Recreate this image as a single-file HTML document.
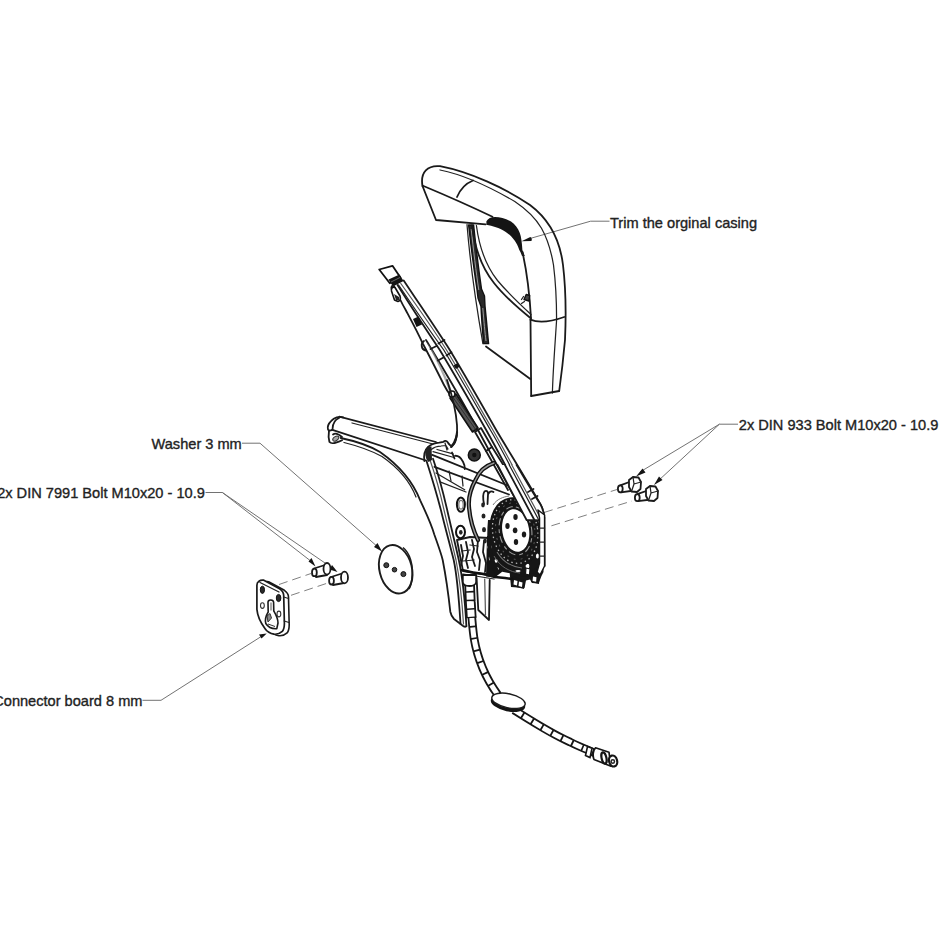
<!DOCTYPE html>
<html><head><meta charset="utf-8"><title>Exploded view</title>
<style>
html,body{margin:0;padding:0;background:#fff;width:944px;height:944px;overflow:hidden}
svg{position:absolute;left:0;top:0;display:block}
text{font-family:"Liberation Sans",sans-serif;font-size:14.6px;fill:#222;stroke:#222;stroke-width:0.35}
.l{fill:none;stroke:#1a1a1a;stroke-width:1.8;stroke-linecap:round;stroke-linejoin:round}
.t{fill:none;stroke:#222;stroke-width:1.25;stroke-linecap:round;stroke-linejoin:round}
.g{fill:none;stroke:#555;stroke-width:1.2;stroke-linecap:round;stroke-linejoin:round}
.k{fill:none;stroke:#111;stroke-width:2.6;stroke-linecap:round;stroke-linejoin:round}
.ld{fill:none;stroke:#6a6a6a;stroke-width:0.95}
.ds{fill:none;stroke:#808080;stroke-width:1;stroke-dasharray:9 5}
.w{fill:#fff}
.b{fill:#141414}
</style></head>
<body>
<svg width="944" height="944" viewBox="0 0 944 944">
<!-- LABELS -->
<text x="610" y="227.5">Trim the orginal casing</text>
<text x="738.8" y="429.6">2x DIN 933 Bolt M10x20 - 10.9</text>
<text x="151.5" y="448.6">Washer 3 mm</text>
<text x="204.8" y="497.8" text-anchor="end">2x DIN 7991 Bolt M10x20 - 10.9</text>
<text x="142.5" y="706.2" text-anchor="end">Connector board 8 mm</text>

<!-- LEADERS -->
<g id="leaders">
<path class="ld" d="M609.5 221.2 H590.6 L530 238.5"/>
<path class="b" d="M521.5 241.3 L530.3 236.9 C531.8 237.5 532.2 239.6 531.4 241 Z"/>
<path class="ld" d="M738 424.2 H719.4 L640 472 M719.4 424.2 L658 481"/>
<path class="b" d="M636 476.5 L642.5 468.5 L645.5 472.5 Z"/>
<path class="b" d="M654 485 L659 476.5 L662.5 480 Z"/>
<path class="ld" d="M242 443.2 H260 L379 548"/>
<path class="b" d="M382 551.5 L374 547 L377.5 543 Z"/>
<path class="ld" d="M205.5 492.5 H222.4 L312 562 M222.4 492.5 L333 568.5"/>
<path class="b" d="M315.5 566.5 L308.5 561.5 L311.5 558 Z"/>
<path class="b" d="M337.5 572 L329.5 569.5 L332 565 Z"/>
<path class="ld" d="M142.5 700.3 H161 L262 636"/>
<path class="b" d="M266.7 633.4 L259 634.5 L261.5 638.5 Z"/>
</g>

<!-- DASHED -->
<path class="ds" d="M279 584.5 L311 573.5 M291 595.3 L329 582.6"/>
<path class="ds" d="M544 512.5 L617 489.5 M551.4 525.8 L632 501"/>

<!-- CASING -->
<g id="casing">
<path class="l" d="M422.5 186 C420 172 428 165 440 166.2 C470 172 505 188 530 205 C550 220 560 240 563 265 C566 290 566 318 565 340 C563 362 561 378 559.2 391"/>
<path class="t" d="M440 170 C465 175 490 187 514.8 201.5 C526 209 536 219 541.5 228.2 C547 238 551 250 553.5 265 C556 285 556.6 305 556.6 320 C555 345 553 370 552.4 393"/>
<path class="l" d="M531.2 396 L559.2 391"/>
<path class="l" d="M530.5 320 L531.2 396"/>
<path class="l" d="M530.3 319.7 C536 322 546 323.5 564.2 317"/>
<path class="l" d="M423.5 186 C445 195 470 206 492.5 216.8"/>
<path class="l" d="M422.5 186 L436 220 L485.6 224.3"/>
<path class="l" d="M457 197 Q462 185 473 180.5"/>
<path class="b" d="M486.4 221.3 C488 218.5 491 217 495 217 C500 217 506 218.5 511 221.5 C515 224.5 518 228 519.8 233 C521.3 237 522 243 522.4 250 L524.8 256 L522 256 C521 253 520 251 519.3 250 C518 246.5 516.5 243 514.8 240.8 C512 237 509 234 505.4 231.7 C502 229.5 499 228.3 495.9 227.2 C492.5 226 489.5 225.2 486.4 224.7 Z"/>
<path class="l" d="M522.5 252 C526 268 529.5 292 531 318"/>
<!-- left side panel -->
<path d="M468.6 225 L473.6 225 C476 248 479 272 481.5 289 L484.5 296 L485 306 C486.5 320 487.5 333 488.6 343.6 L483.6 343.6 C482.5 330 481.5 318 481 306.4 L478 298 L477 289.3 C474 270 471 246 468.6 225 Z" fill="#2a2a2a" stroke="#111" stroke-width="1.4" stroke-linejoin="round"/>
<path d="M471.2 229 C473.5 250 476 272 478.8 290 M482.8 308 C484 322 485 333 486 341" stroke="#9a9a9a" stroke-width="1" fill="none"/>
<path class="t" d="M467 224.5 C470 262 477 310 482.9 343.6"/>
<path class="l" d="M486 346.5 L530.3 379"/>
<path class="l" d="M472 225.5 C475 250 482 268 494 283 C505 297 518 308 531 318.5"/>
<path class="t" d="M476.4 225.5 C479.5 249 486 266 497.5 280.5 C508 293 519 303.5 531 314.5"/>
<path d="M524 299.5 l2.2 -5 l3.5 1 l-0.8 5.5 z" fill="#444" stroke="#111" stroke-width="1.4" stroke-linejoin="round"/>
<path class="t" d="M521.5 303.5 l3 -2 M523.5 296.5 l-2 3"/>
</g>

<!-- LONG ARM -->
<g id="arm">
<path d="M379.2 269.5 L392.5 265.8 L400.4 277.5 L389.8 283.3 Z" fill="#fff" stroke="#111" stroke-width="1.8" stroke-linejoin="round"/>
<path class="b" d="M388.5 279.5 L399.5 274.5 L403.6 281 L393 286.5 Z"/>
<path d="M391 282 L400 277.5" stroke="#666" stroke-width="1" fill="none"/>
<!-- right outer -->
<path class="l" d="M403.7 280.4 C420 305 437 330 449.8 350 C466 377 482 405 496.2 430 C508 450 525 477 540.4 504.2 C543 509 544 512 544.3 518 L544.6 566"/>
<path class="g" d="M400.8 283.5 C417 306 434 330 446.5 350 C463 377 478 405 492.9 430 C505 451 518 476 530.7 500"/>
<path class="t" d="M398.6 285 C414 308 430 331 443.8 350 C460 377 476 405 490.4 430 C503 451 515 476 528.1 500"/>
<path class="l" d="M397.5 285 C412 308 427 331 439.8 350 C456 377 472 405 486.2 430 C498 451 511 476 523.7 500 L526 504"/>
<!-- left outer -->
<path class="l" d="M391.5 289 C391 287 392 285 394 286 C397 293 401 302 405.7 310 C411 320 417 331 423 344 C430 357 437 371 444 385 C446 389 448 392 451 396"/>
<path class="l" d="M426 340 C428 343 430 347 432 350 C447 375 463 402 478 430 C490 452 503 476 516 500"/>
<path d="M426 341 C432 352 438 364 444 378 L449 391 L452 391 C448 380 441 366 433.5 352 Z" fill="#888" opacity="0.7"/>
<path d="M391.5 291 C391 288 393 286.5 395 287.5 L400 296 C401 299 400 301 398 301.5 L394.5 300 Z" fill="#fff" stroke="#111" stroke-width="1.6" stroke-linejoin="round"/>
<path d="M394 294 L399 297 L399.5 300.5 L396 300 Z" fill="#222"/>
<path class="b" d="M413 319 L418.5 316.5 L422 324.5 L416.5 327 Z"/>
<path class="l" d="M424 341 C420.5 343 421 349.5 425.5 350.5"/>
<path class="l" d="M438.5 343.5 L444.5 340 M446.5 355.5 L451.5 352.3 M430.5 349 L436.5 346 M438 360.5 L443.5 357.5"/>
<path class="b" d="M453.5 365.5 l4 -2.5 l2.5 3.5 l-4 2.5 z"/>
<!-- spring -->
<path d="M450 398 L456 394 L478 428 L472.5 432 Z" fill="#555" stroke="#111" stroke-width="1.6" stroke-linejoin="round"/>
<path d="M452 396 L476 430 M454 394.5 L477.5 428.5" stroke="#222" stroke-width="0.8" fill="none"/>
<circle cx="452" cy="394" r="3" fill="#fff" stroke="#111" stroke-width="1.6"/>
<!-- slot below spring -->
<path class="l" d="M475 432 L481 428 L492 447 L486 451 Z"/>
<!-- wire -->
<path class="l" d="M447 380 C452 395 456 410 457 425 C458 435 455 442 451 447"/>
<path class="l" d="M456.8 435 C456 441 454 445 451.5 447"/>
<!-- lower arm part near gear -->
<path class="l" d="M486 451 L508 490 M492 447 L516 485"/>
</g>

<!-- BRACKET -->
<g id="bracket">
<path class="l" d="M339.3 416.7 L436 442"/>
<path class="t" d="M352 423 L433 444"/>
<path class="l" d="M343.2 417.4 C339 416 334 417.5 331.5 420.6 C328.5 423.5 327.2 427 328 429.5 C328.5 431 330 431 332.6 429.6"/>
<path class="l" d="M339 418 C335.5 419.5 332.8 423.5 332.6 428.5"/>
<path class="l" d="M329 430.5 C328.5 434 328.6 439 329.4 441.8 C331 443.5 334 443.3 335.2 442.8 C338 442 340.5 441 342.1 440.2"/>
<ellipse cx="335.8" cy="438.6" rx="3.4" ry="2" transform="rotate(-35 335.8 438.6)" fill="#aaa" stroke="#333" stroke-width="1"/>
<path class="l" d="M333 434.5 C335 433 338 433.5 342 437"/>
<path class="l" d="M332.4 429.8 L426 460.5"/>
<path class="l" d="M340.7 438 C355 441 370 446 380 452 C400 466 413 482 420.2 500.3 C426 513 431 523 434.3 534.5 C438 545 441 553 442.7 560 C446 577 448.5 595 450.3 611.7 C451 615 452 617 454 619 L462.2 625.3 C463.5 626.5 465 627.2 466.4 626.3"/>
<path class="t" d="M344 442.5 C358 446 372 451 382 456.5 C400 469 411 484 416 497"/>
<path class="l" d="M426.6 461.2 C432 478 437 495 440.9 510 C445 527 450 545 453.7 560 C457 575 459 600 460.5 623.6"/>
<path class="l" d="M433 458.8 C439 476 443.5 494 447.2 510 C451 527 455.5 545 458.8 560 C462 575 465 600 466.4 626"/>
<path class="g" d="M430 460 C436 477 440.5 494 444 510 C448 527 452.5 545 456 560 C459 575 462 600 463.5 624"/>
<!-- top rounded cap -->
<path class="l" d="M424.4 461 C423.5 455 425 450 428 447 C431 444.5 435 443 439.2 442.6 L443.5 441.8 C444.5 440.5 446.5 440.5 447.5 442 L448.5 443.5 L450.8 445.8 C452.5 445.5 454.5 444 455.5 441 C456.5 438 457 435 457.2 432"/>
<path class="t" d="M431.2 449.5 C434 447 437 446 441 446 L446 445.5 L448 449 M445 443 L447 450"/>
<path d="M425.3 450 C426.3 447.5 429 446 431.5 446.5 L432 460 L428.5 462 C426 460 425 455 425.3 450 Z" fill="#222"/>
<!-- cross bar -->
<path class="l" d="M432.2 454.9 L509 486"/>
<path class="l" d="M434.5 466.8 L509 494.5"/>
<path class="t" d="M436 473 L464.7 489.8 M440 481.9 L466 492"/>
<path class="t" d="M433 451.6 L454 457.5 M437 449.5 L453 453.8"/>
<path class="l" d="M452 452.5 L454.5 458.5"/>
<path class="l" d="M455 455.8 C458 455.5 461 458 463 461.7 C464.5 464.5 465 467 464.8 469"/>
<path class="t" d="M449 471 L451 481 M462 476 L463 486"/>
<circle cx="474.3" cy="455" r="6" fill="#333" stroke="#111" stroke-width="1.5"/>
<circle cx="474.3" cy="455" r="2.2" fill="#111"/>
<!-- Y piece -->
<path class="l" d="M484 504 C483 499 482.5 494 484.5 491.5 C486.5 490 488.5 491.5 488 494.5 L487.5 504 M488 494.5 C489 491.5 491.5 490.5 493.5 492"/>
</g>

<!-- MECHANISM -->
<g id="mech">
<!-- left clutter box -->
<path class="l" d="M457 540 L470 537 L489 538 L494 560 L494.5 576 L463 571 Z" fill="#fff"/>
<path class="l" d="M461 545 L463 556 L461 565 M466 542 L468 552 L466 560 L468 568 M472 540 L474 549 L472 557 L475 566 M478 540 L477 552 L480 560 L479 570 M484 541 L483 552 L486 563 L485 572 M489 540 L490 556 L489 572"/>
<path class="t" d="M462 551 L470 550 M463 561 L474 560 M470 545 L478 546"/>
<path class="k" d="M462 570 L473 572.5 L484 574 L495 577"/>
<path class="t" d="M463 574 L494 579"/>
<!-- holes left -->
<ellipse cx="460.9" cy="504.6" rx="4" ry="7.2" fill="#fff" stroke="#111" stroke-width="2"/>
<ellipse cx="461" cy="504.8" rx="2.2" ry="4.4" fill="#fff" stroke="#777" stroke-width="1.2"/>
<ellipse cx="460.5" cy="532" rx="4.5" ry="6.2" fill="#fff" stroke="#111" stroke-width="2"/>
<ellipse cx="460.8" cy="532.3" rx="1.8" ry="2.4" fill="#222"/>
<!-- curved rod -->
<path d="M494 463 C485 466 479 472 476 479 C471 488 468 497 469 507 C470 520 474 532 478 540" fill="none" stroke="#111" stroke-width="4.2" stroke-linecap="round"/>
<path d="M494 463 C485 466 479 472 476 479 C471 488 468 497 469 507 C470 520 474 532 478 540" fill="none" stroke="#999" stroke-width="1.4" stroke-linecap="round"/>
<ellipse cx="483" cy="505" rx="1.8" ry="2.4" fill="#222"/>
<ellipse cx="483.5" cy="516" rx="2" ry="2.6" fill="#222"/>
<ellipse cx="484" cy="529.7" rx="2" ry="2.6" fill="#222"/>
<ellipse cx="485" cy="541" rx="1.8" ry="2.4" fill="#222"/>
<!-- dark mass under gear -->
<path d="M487 536 L543 536 L543.5 572 L541.5 576 L538.6 583.6 L532 583 L530 579.5 L526 580.6 L524.5 588 L511 587 L509.7 573.2 L502.2 571.7 L494.8 577.6 L486 576.5 Z" fill="#161616"/>
<g fill="#fff">
<ellipse cx="489.5" cy="547" rx="2" ry="2.6"/>
<ellipse cx="490.5" cy="558" rx="1.7" ry="2.8"/>
<ellipse cx="496" cy="561" rx="1.8" ry="1.8"/>
<ellipse cx="497" cy="569" rx="1.9" ry="1.4"/>
<ellipse cx="523.5" cy="553" rx="2.3" ry="1.3"/>
<ellipse cx="520" cy="561" rx="1.8" ry="1.1"/>
<ellipse cx="527.5" cy="566" rx="1.9" ry="2.6"/>
<ellipse cx="518" cy="571" rx="2.6" ry="1"/>
<ellipse cx="537.5" cy="556" rx="1.6" ry="2.6"/>
<ellipse cx="535.5" cy="580" rx="1.5" ry="2"/>
<ellipse cx="514" cy="581" rx="1.4" ry="2"/>
<ellipse cx="520.5" cy="583.5" rx="1.4" ry="2"/>
</g>
<path d="M502 553 C507 558 512 562 517 564 M505 550 C510 555 514 558 519 560" stroke="#888" stroke-width="1" fill="none"/>
<path d="M541 548 L541 572" stroke="#aaa" stroke-width="1.4" fill="none"/>
<!-- gear dark ring -->
<ellipse cx="515" cy="532" rx="25.5" ry="35" transform="rotate(-9 515 532)" fill="#151515"/>
<path d="M491 520 C489 540 492 560 500 572 L495 575 C488 562 486 540 488 520 Z" fill="#151515"/>
<path d="M498 560 C505 572 520 580 534 576 L538 566 L530 572 C518 575 506 570 498 560 Z" fill="#151515"/>
<ellipse cx="515.5" cy="530.8" rx="16.2" ry="24.3" transform="rotate(-9 515.5 530.8)" fill="none" stroke="#9a9a9a" stroke-width="1.1" stroke-dasharray="7 3 4 4"/>
<ellipse cx="515.2" cy="531.5" rx="22.5" ry="32" transform="rotate(-9 515.2 531.5)" fill="none" stroke="#bbb" stroke-width="1.3" stroke-dasharray="1.4 3.2"/>
<ellipse cx="515.3" cy="531.2" rx="19.5" ry="28.5" transform="rotate(-9 515.3 531.2)" fill="none" stroke="#555" stroke-width="1" stroke-dasharray="2 5"/>
<path d="M497 552 C503 562 512 567 522 568" fill="none" stroke="#777" stroke-width="1.1"/>
<path d="M494 556 C500 567 510 572 520 573" fill="none" stroke="#666" stroke-width="1"/>
<path d="M493 505 C497 499 503 497 509 496" fill="none" stroke="#777" stroke-width="1"/>
<ellipse cx="515.7" cy="530.5" rx="13.4" ry="21.4" transform="rotate(-9 515.7 530.5)" fill="#fff"/>
<ellipse cx="515.5" cy="517.1" rx="2.2" ry="3" fill="#1a1a1a"/>
<ellipse cx="507.5" cy="526" rx="2.2" ry="3" fill="#1a1a1a"/>
<ellipse cx="515.1" cy="530.3" rx="2.3" ry="2.9" fill="#1a1a1a"/>
<ellipse cx="524" cy="534.5" rx="2.2" ry="3" fill="#1a1a1a"/>
<ellipse cx="516" cy="542.1" rx="2.2" ry="3" fill="#1a1a1a"/>
<!-- arm end over gear -->
<path d="M497.5 465 L516.6 465 L537 500 L541.5 506.5 L544 512 L543 520 L526.6 520 Z" fill="#fff"/>
<path class="l" d="M516.6 465 C525 479 533 493 540.4 504.2 C543 509 544 512 544.3 518"/>
<path class="g" d="M511.8 465 L541 519"/>
<path class="t" d="M509.3 465 L538.5 519.5"/>
<path class="l" d="M505 465 L534.4 520"/>
<path class="l" d="M497.5 465 L526.6 520 L543 520.5"/>
<path class="l" d="M528 492 L533.5 489 M532 499 L537.5 496"/>
<!-- housing right edge -->
<path d="M538 510 L544.6 515 L544.6 566 L540 575 L537 572 L539.5 563 L539.5 518 Z" fill="#fff" stroke="#151515" stroke-width="1.5" stroke-linejoin="round"/>
<path class="t" d="M539.5 528 L544.6 528 M539.5 542 L544.6 542 M539.5 556 L544.6 556"/>
<!-- lower knobs -->
<path d="M512 576 L525 580 L524 589 L512 586 Z" fill="#151515"/>
<path d="M514 580 l3.5 1 l-0.5 4.5 l-3.5 -1 z M519 581.5 l3.5 1 l-0.5 4.5 l-3.5 -1 z" fill="#fff"/>
<path d="M531 573 L539.5 575 L539 584 L531 582 Z" fill="#151515"/>
<path d="M533 576.5 l3.5 0.8 l-0.4 4.5 l-3.5 -0.8 z" fill="#fff"/>
<path d="M526 568 l4 1 l-0.5 6 l-4 -1 z" fill="#fff" stroke="#151515" stroke-width="1.2"/>
<path class="k" d="M495 577 L505 578 L512 579"/>
</g>

<!-- CABLE -->
<g id="cable">
<path d="M469.8 578 C470.5 600 471.5 620 474 638 C477 656 484 676 498 695" fill="none" stroke="#161616" stroke-width="8.6"/>
<path d="M469.8 578 C470.5 600 471.5 620 474 638 C477 656 484 676 498 695" fill="none" stroke="#fff" stroke-width="5" stroke-dasharray="10.5 1.8"/>
<path d="M469.6 584 L470.3 602 L471.3 618" fill="none" stroke="#161616" stroke-width="10.6"/>
<path d="M469.6 584 L470.3 602 L471.3 618" fill="none" stroke="#fff" stroke-width="7" stroke-dasharray="7 1.6"/>
<path d="M462.8 575 L476.2 575 L476.2 582 C476.2 585 472 586 469.4 586 C466 586 462.8 585 462.8 582 Z" fill="#fff" stroke="#161616" stroke-width="1.8" stroke-linejoin="round"/>
<!-- lower plates -->
<path class="l w" d="M476.6 578 L478.3 610 L489 620 L489.7 580"/>
<path class="g" d="M484.7 579 L485.5 615"/>
<path d="M514 710 C530 720 550 733 570 742 C580 747 588 750 595 753" fill="none" stroke="#161616" stroke-width="8.6"/>
<path d="M514 710 C530 720 550 733 570 742 C580 747 588 750 595 753" fill="none" stroke="#fff" stroke-width="5" stroke-dasharray="9.5 1.8"/>
<path d="M587.5 746.5 L592 748.3 L590 757.5 L585.5 755.5 Z" fill="#fff" stroke="#151515" stroke-width="1.6"/>
<ellipse cx="508" cy="703.5" rx="17.5" ry="7.8" transform="rotate(12 508 703.5)" class="b"/>
<ellipse cx="508.5" cy="700.8" rx="17" ry="7" transform="rotate(12 508.5 700.8)" fill="#fff" stroke="#1c1c1c" stroke-width="1.4"/>
<path d="M595.5 747.8 L609 752.3 L611 766.2 L594 759.5 C592.5 756 593 750 595.5 747.8 Z" fill="#fff" stroke="#151515" stroke-width="1.7" stroke-linejoin="round"/>
<ellipse cx="604" cy="758" rx="2.4" ry="5.8" transform="rotate(-12 604 758)" fill="none" stroke="#151515" stroke-width="2.2"/>
<ellipse cx="613.1" cy="761" rx="4" ry="5.6" transform="rotate(-15 613.1 761)" fill="#fff" stroke="#151515" stroke-width="2.2"/>
<circle cx="612.8" cy="761.5" r="1.7" fill="#fff" stroke="#222" stroke-width="1.5"/>
</g>

<!-- RIGHT BOLTS -->
<g id="rbolts">
<path class="l w" d="M620.3 485.3 L632 481 L634 490.5 L621 492.3 Z"/>
<path class="l w" d="M629 480 L633 477 L638.5 477.5 L641 482 L640.5 489 L637 492 L631.5 491.5 L629 487 Z"/>
<path class="t" d="M633 477 L634 484 L631.5 491.5 M634 484 L641 482"/>
<ellipse class="l w" cx="620.3" cy="488.8" rx="2.4" ry="3.5"/>
<path class="l w" d="M637.3 494.2 L649 490 L651 499.5 L638 501.2 Z"/>
<path class="l w" d="M646 489 L650 486 L655.5 486.5 L658 491 L657.5 498 L654 501 L648.5 500.5 L646 496 Z"/>
<path class="t" d="M650 486 L651 493 L648.5 500.5 M651 493 L658 491"/>
<ellipse class="l w" cx="637.3" cy="497.7" rx="2.4" ry="3.5"/>
</g>

<!-- WASHER -->
<g id="washer">
<ellipse cx="395.7" cy="569.3" rx="16.2" ry="24.6" transform="rotate(-14 395.7 569.3)" fill="#fff" stroke="#1c1c1c" stroke-width="1.9"/>
<path d="M403 547.5 C410 553 413.5 565 412 578 C411.5 583 410.5 587 409 589" stroke="#1c1c1c" stroke-width="1.5" fill="none"/>
<circle cx="386.3" cy="565.2" r="2.5" fill="#444" stroke="#111" stroke-width="1"/>
<circle cx="394.5" cy="569.7" r="2.3" fill="#444" stroke="#111" stroke-width="1"/>
<circle cx="403.4" cy="574.1" r="2.5" fill="#444" stroke="#111" stroke-width="1"/>
</g>

<!-- LEFT BOLTS -->
<g id="lbolts">
<path class="l w" d="M314 568.5 L325 565 L327 575 L316 577 Z"/>
<ellipse class="l w" cx="327" cy="568.8" rx="3.5" ry="5.8"/>
<ellipse class="l w" cx="314.4" cy="572.4" rx="2.4" ry="3.8"/>
<path class="l w" d="M331 577 L342 573.5 L344 583 L333 585 Z"/>
<ellipse class="l w" cx="344.5" cy="577.5" rx="3.5" ry="5.8"/>
<ellipse class="l w" cx="331.5" cy="580.7" rx="2.4" ry="3.8"/>
</g>

<!-- CONNECTOR BOARD -->
<g id="board">
<path d="M263.7 582.7 C265.3 581.5 266.8 581.3 268.6 581.7 L284.4 590.3 C286.8 592 288.5 594.5 288.5 597.1 L289.2 624.7 C289.2 628.5 288.3 631.5 287.1 632.9 C284.8 635 281.8 636 278.9 635.7 C274.8 635 271.8 633 269.9 630.2 Z" fill="#fff" stroke="#1a1a1a" stroke-width="1.6" stroke-linejoin="round"/>
<path d="M258.9 581.2 C260.5 580 262 579.8 263.8 580.2 L279.6 588.8 C282 590.5 283.7 593 283.7 595.6 L284.4 623.2 C284.4 627 283.5 630 282.3 631.4 C280 633.5 277 634.5 274.1 634.2 C270 633.5 267 631.5 265.1 628.7 C260 622 257.5 616 256.9 609.4 L256.9 585.3 C256.9 583.5 257.5 582 258.9 581.2 Z" fill="#fff" stroke="#1a1a1a" stroke-width="1.7" stroke-linejoin="round"/>
<path class="t" d="M260 582.5 L279 592 M283.7 597 L288.5 598.5 M284.2 621 L289 622.5"/>
<ellipse cx="262.4" cy="589.8" rx="2.1" ry="3.6" fill="#2a2a2a" stroke="#111" stroke-width="1"/>
<ellipse cx="278.6" cy="598" rx="2.3" ry="3.6" fill="#2a2a2a" stroke="#111" stroke-width="1"/>
<ellipse cx="262.4" cy="605.6" rx="1.9" ry="2.8" fill="#fff" stroke="#333" stroke-width="1.1"/>
<ellipse cx="278.9" cy="614" rx="1.9" ry="2.9" fill="#fff" stroke="#333" stroke-width="1.1"/>
<path d="M268 602.3 C268 599.3 273.3 599 273.6 602.3 L273.8 611 C275.5 614 278 618 278 623 L276.8 628.7 C272.5 629 268 627 265.8 623.5 C264.8 620 265.8 616 268.2 612 Z" fill="#fff" stroke="#1a1a1a" stroke-width="1.6" stroke-linejoin="round"/>
<path d="M270 602.5 L272 602.5 L272.2 610.5 L270 610.5 Z" fill="#aaa"/>
<path d="M267 616 L270 613.5 L271.5 618 L268 622 Z M268 624 L275 626.5" fill="#888" stroke="#333" stroke-width="1"/>
</g>
</svg>
</body></html>
